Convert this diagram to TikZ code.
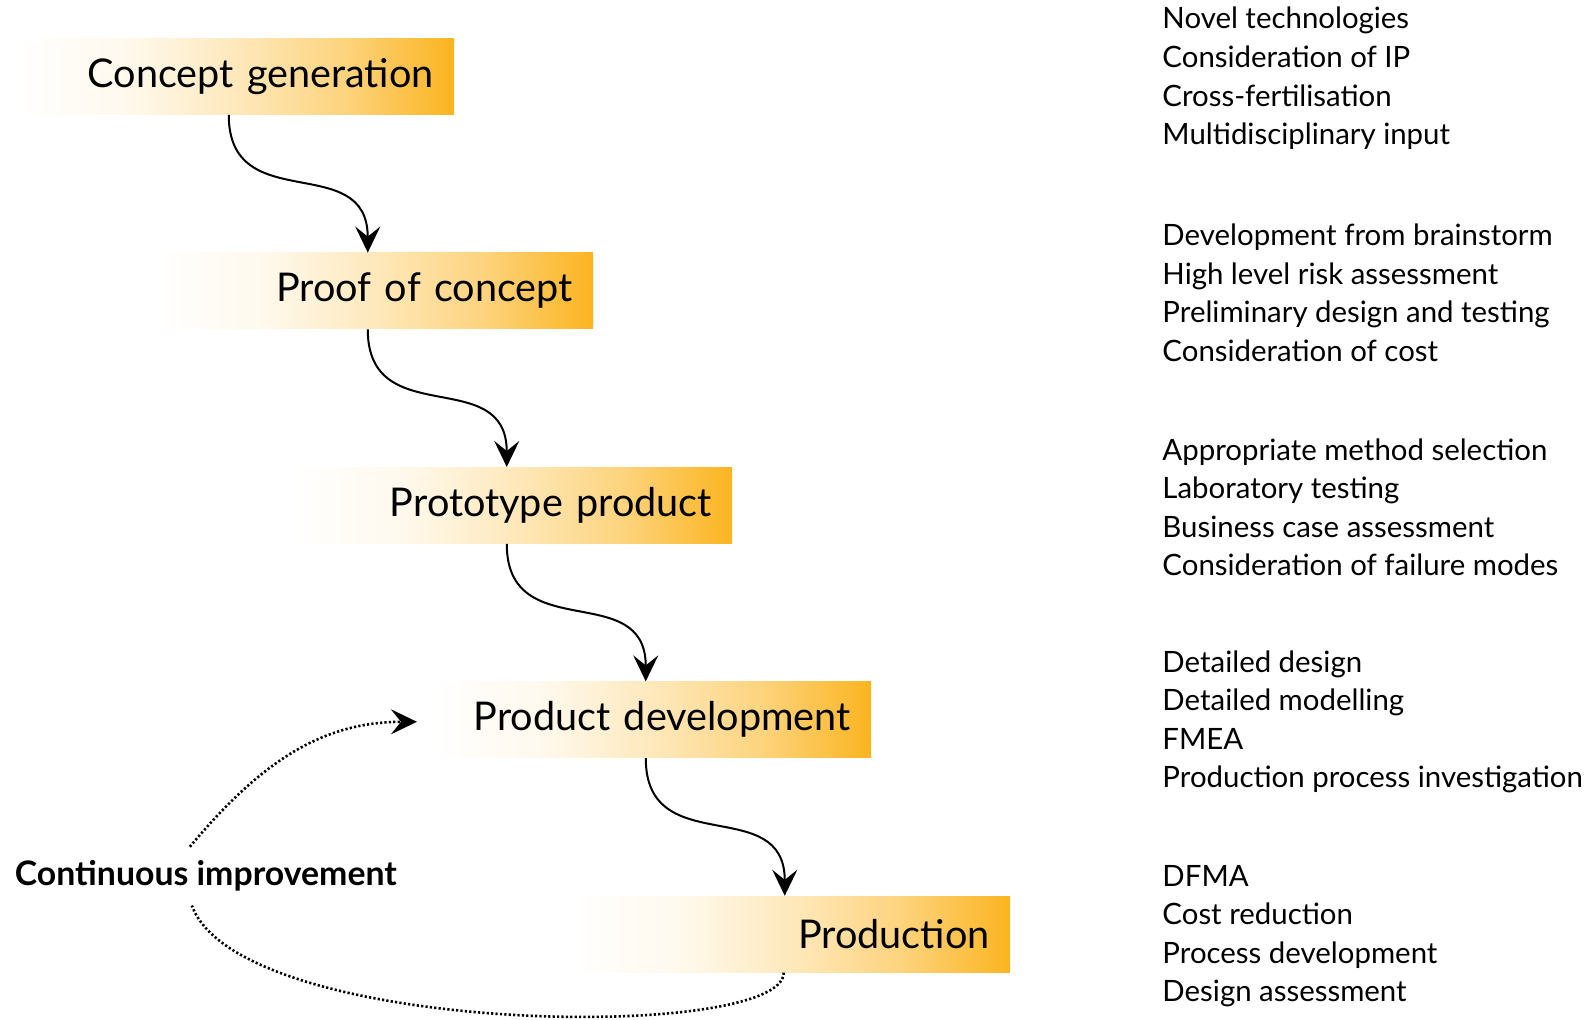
\documentclass[tikz,border=0pt]{standalone}
\usepackage{fontspec}
\setmainfont{Lato}
\usetikzlibrary{positioning,arrows.meta}

\definecolor{orng}{RGB}{251,180,32}
\pgfdeclarehorizontalshading{boxfade}{100bp}{color(0bp)=(white); color(25bp)=(white); color(37.5bp)=(orng!8!white); color(50bp)=(orng!30!white); color(62.5bp)=(orng!58!white); color(75bp)=(orng); color(100bp)=(orng)}

\tikzset{
  stage/.style={shading=boxfade, text width=199pt, align=right, inner xsep=10.2pt,
    minimum height=38pt, font=\fontsize{19.8}{23}\selectfont},
  notes/.style={anchor=west, align=left, inner sep=0pt, yshift=-1pt, font=\fontsize{14.7}{19.3}\selectfont},
  flow/.style={line width=1pt, looseness=1.35, -{Stealth[length=13pt,width=12.5pt,inset=5pt]}},
  loopline/.style={line width=1.3pt, dash pattern=on 1.1pt off 1.1pt}
}

\begin{document}
\begin{tikzpicture}[x=0.507pt,y=-0.507pt]
\useasboundingbox (0,0) rectangle (1568,1005);
% stages
\node[stage] (cg) at (231.5,75.5) {Concept generation};
\node[stage, below=68.8pt of cg, xshift=69.5pt] (poc) {Proof of concept};
\node[stage, below=68.8pt of poc, xshift=69.5pt] (pp) {Prototype product};
\node[stage, below=68.8pt of pp, xshift=69.5pt] (pd) {Product development};
\node[stage, below=68.8pt of pd, xshift=69.5pt] (pro) {Production};
% loop label
\node[font=\fontsize{16.9}{19}\selectfont\bfseries, inner xsep=5pt, inner ysep=6.8pt] (ci) at (203,864) {Continuous improvement};
% notes column
\coordinate (col) at (1146,0);
\node[notes] (ncg) at (col |- cg) {Novel technologies\\Consideration of IP\\Cross-fertilisation\\Multidisciplinary input};
\node[notes] (npoc) at (col |- poc) {Development from brainstorm\\High level risk assessment\\Preliminary design and testing\\Consideration of cost};
\node[notes] (npp) at (col |- pp) {Appropriate method selection\\Laboratory testing\\Business case assessment\\Consideration of failure modes};
\node[notes] (npd) at (col |- pd) {Detailed design\\Detailed modelling\\FMEA\\Production process investigation};
\node[notes] (npro) at (col |- pro) {DFMA\\Cost reduction\\Process development\\Design assessment};
% flow arrows
\draw[flow] ([xshift=-3pt]cg.south) to[out=-90,in=90] ([xshift=-3pt]poc.north);
\draw[flow] ([xshift=-3pt]poc.south) to[out=-90,in=90] ([xshift=-3pt]pp.north);
\draw[flow] ([xshift=-3pt]pp.south) to[out=-90,in=90] ([xshift=-3pt]pd.north);
\draw[flow] ([xshift=-3pt]pd.south) to[out=-90,in=90] ([xshift=-3pt]pro.north);
% continuous improvement loop
\draw[loopline] ([xshift=-3.5pt]pro.south) to[out=-90,in=-70,out looseness=0.3,in looseness=0.6] ([xshift=-7pt]ci.south);
\draw[loopline, -{Stealth[length=13pt,width=12.5pt,inset=5pt]}] ([xshift=-8pt]ci.north) to[out=50,in=180] ([xshift=-7.5pt,yshift=-1pt]pd.west);
\end{tikzpicture}
\end{document}
